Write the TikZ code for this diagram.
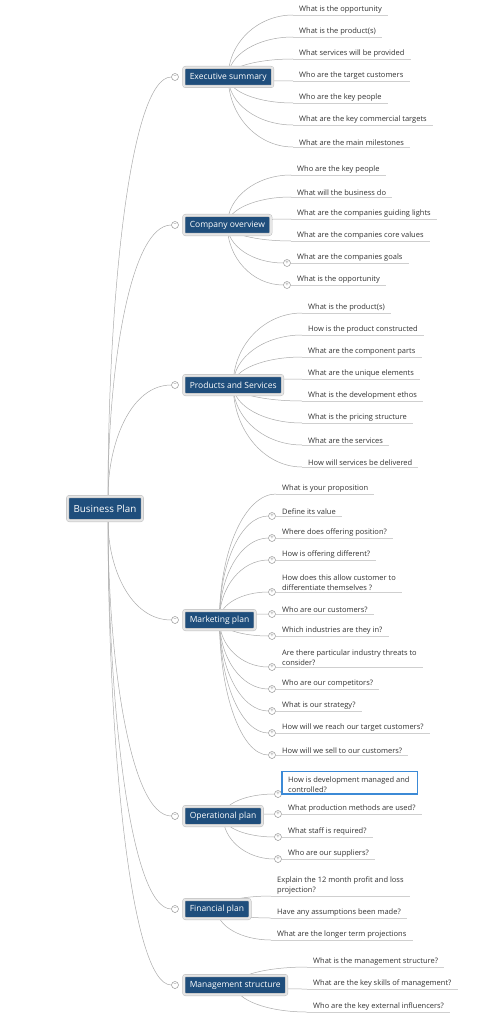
\documentclass[tikz,border=0pt]{standalone}
\usepackage{fontspec}
\setmainfont{Open Sans}
\usetikzlibrary{backgrounds,calc}
\definecolor{mmBlue}{HTML}{1F4E7C}
\definecolor{mmFrame}{HTML}{E6E6E6}
\definecolor{mmEdge}{HTML}{BDBDBD}
\definecolor{mmText}{HTML}{333333}
\definecolor{mmLink}{HTML}{ABABAB}
\definecolor{mmRule}{HTML}{CFCFCF}
\definecolor{mmSel}{HTML}{3C8AD6}
\definecolor{mmKnob}{HTML}{8C8C8C}

\tikzset{
  topic/.style={draw=mmEdge, double=mmFrame, double distance=2pt, line width=0.5pt,
    fill=mmBlue, text=white, rounded corners=2pt, minimum height=19pt, inner xsep=6pt,
    anchor=west, font=\fontsize{8.5}{10}\selectfont},
  central/.style={topic, minimum height=24pt, anchor=center, font=\fontsize{9.8}{11}\selectfont},
  leaf/.style={anchor=south west, inner xsep=6pt, inner ysep=1.3pt, align=left,
    text=mmText, font=\fontsize{7.5}{10.3}\selectfont},
  rule/.style={draw=mmRule, line width=0.6pt},
  link/.style={draw=mmLink, line width=0.5pt},
  picked/.style={draw=mmSel, line width=1.1pt},
  toggle/.style={circle, draw=mmKnob, fill=white, line width=0.45pt, inner sep=0pt,
    minimum size=7pt, text=mmKnob, font=\fontsize{6}{6}\selectfont},
}

% curved connector: #1 = vertical pull, #2 = horizontal pull
\newcommand\mmlink[4]{%
  \begin{pgfonlayer}{background}
    \draw[link] let \p1=(#3), \p2=(#4) in
      (\p1) .. controls (\x1,{(1-#1)*\y1+#1*\y2}) and ({\x2-#2*(\x2-\x1)},\y2) .. (\p2);
  \end{pgfonlayer}}

% leaves of one topic: #1 = topic, #2 = x of the rules, #3 = list
\newcommand\mmleaves[3]{%
  \foreach \i/\uy/\f/\txt in {#3} {
    \node[leaf] (#1-\i) at (#2,\uy) {\txt};
    \draw[rule] (#1-\i.south west) -- (#1-\i.south east);
    \ifnum\f>0\relax
      \node[toggle] (#1-\i-t) at ([xshift=-4pt]#1-\i.south west) {+};
      \mmlink{0.55}{0.55}{#1.center}{#1-\i-t.west}
    \else
      \mmlink{0.55}{0.55}{#1.center}{#1-\i.south west}
    \fi
    \ifnum\f=2\relax
      \draw[picked] (#1-\i.south west) rectangle ([xshift=2pt,yshift=3pt]#1-\i.north east);
    \fi
  }}

\begin{document}
\begin{tikzpicture}[x=1pt, y=-1pt]
  \useasboundingbox (0,0) rectangle (488,1024);

  \node[central] (bp) at (105,508.5) {Business Plan};

  % topics
  \foreach \k/\ty/\t in {es/77/Executive summary, co/225/Company overview,
      ps/385/Products and Services, mp/620/Marketing plan, op/816/Operational plan,
      fp/909/Financial plan, ms/985/Management structure} {
    \node[topic] (\k) at (183.5,\ty) {\t};
    \node[toggle] (\k-tg) at (175,\ty) {–};
  }
  \foreach \k in {es,co,ps} {
    \mmlink{0.47}{0.65}{[xshift=3pt]bp.north}{\k-tg.west}
  }
  \foreach \k in {mp,op,fp,ms} {
    \mmlink{0.47}{0.65}{[xshift=3pt]bp.south}{\k-tg.west}
  }

  \mmleaves{es}{293}{1/15/0/What is the opportunity, 2/37/0/What is the product(s),
    3/59/0/What services will be provided, 4/81/0/Who are the target customers,
    5/103/0/Who are the key people, 6/125/0/What are the key commercial targets,
    7/147/0/What are the main milestones}

  \mmleaves{co}{291}{1/175/0/Who are the key people, 2/197/0/What will the business do,
    3/219/0/What are the companies guiding lights, 4/241/0/What are the companies core values,
    5/263/1/What are the companies goals, 6/285/1/What is the opportunity}

  \mmleaves{ps}{302}{1/313/0/What is the product(s), 2/335/0/How is the product constructed,
    3/357/0/What are the component parts, 4/379/0/What are the unique elements,
    5/401/0/What is the development ethos, 6/423/0/What is the pricing structure,
    7/445/0/What are the services, 8/467/0/How will services be delivered}

  \mmleaves{mp}{276}{1/494/0/What is your proposition, 2/516/1/Define its value,
    3/538/1/Where does offering position?, 4/560/1/How is offering different?,
    5/592/1/{How does this allow customer to\\differentiate themselves ?},
    6/614/1/Who are our customers?, 7/636/1/Which industries are they in?,
    8/667/1/{Are there particular industry threats to\\consider?},
    9/689/1/Who are our competitors?, 10/711/1/What is our strategy?,
    11/733/1/How will we reach our target customers?, 12/755/1/How will we sell to our customers?}

  \mmleaves{op}{282}{1/794/2/{How is development managed and\\controlled?},
    2/814/1/What production methods are used?, 3/837/1/What staff is required?,
    4/859/1/Who are our suppliers?}

  \mmleaves{fp}{271}{1/896/0/{Explain the 12 month profit and loss\\projection?},
    2/918/0/Have any assumptions been made?, 3/940/0/What are the longer term projections}

  \mmleaves{ms}{307}{1/967/0/What is the management structure?,
    2/989/0/What are the key skills of management?, 3/1012/0/Who are the key external influencers?}
\end{tikzpicture}
\end{document}
